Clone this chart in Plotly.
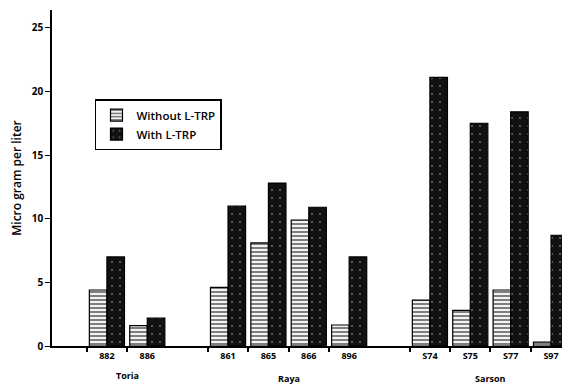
import plotly.graph_objects as go

# ---- data ----
groups = ["Toria", "Raya", "Sarson"]
varieties = ["882", "886", "861", "865", "866", "896", "S74", "S75", "S77", "S97"]
variety_group = ["Toria", "Toria", "Raya", "Raya", "Raya", "Raya",
                 "Sarson", "Sarson", "Sarson", "Sarson"]
without_ltrp = [4.4, 1.6, 4.6, 8.1, 9.9, 1.65, 3.6, 2.8, 4.4, 0.3]
with_ltrp = [7.0, 2.2, 11.0, 12.8, 10.9, 7.0, 21.1, 17.5, 18.4, 8.7]
series_names = ["Without L-TRP", "With L-TRP"]
y_ticks = [0, 5, 10, 15, 20, 25]
y_title = "Micro gram per liter"

# slot positions: a blank slot between groups
positions = []
slot = 0
prev = None
for g in variety_group:
    if prev is not None and g != prev:
        slot += 1
    positions.append(slot)
    slot += 1
    prev = g

group_centers = {}
for g in groups:
    ps = [p for p, vg in zip(positions, variety_group) if vg == g]
    group_centers[g] = sum(ps) / len(ps)

FONT = "Open Sans"

fig = go.Figure()
fig.add_trace(go.Bar(
    x=positions, y=without_ltrp, name=series_names[0],
    marker=dict(color="white", line=dict(color="black", width=1.2),
                pattern=dict(shape="-", fgcolor="black", bgcolor="white",
                             size=4, solidity=0.55)),
))
fig.add_trace(go.Bar(
    x=positions, y=with_ltrp, name=series_names[1],
    marker=dict(color="#111111", line=dict(color="black", width=1.2),
                pattern=dict(shape=".", fgcolor="#bbbbbb", bgcolor="#111111",
                             size=8, solidity=0.06)),
))

minor_ticks = [p - 0.5 for p in positions] + [positions[-1] + 0.5]

fig.update_layout(
    width=562, height=381,
    margin=dict(l=44, r=0, t=2, b=43),
    paper_bgcolor="white", plot_bgcolor="white",
    barmode="group", bargap=0.13, bargroupgap=0.0,
    font=dict(family=FONT, color="black", size=10),
    showlegend=True,
    legend=dict(x=0.083, y=0.735, xanchor="left", yanchor="top",
                bordercolor="black", borderwidth=1.5, bgcolor="white",
                font=dict(family=FONT, size=11.5, weight=600),
                tracegroupgap=0, itemwidth=30),
    xaxis=dict(range=[-1.36, 11.47], showgrid=False, zeroline=False,
               showline=True, linecolor="black", linewidth=1.5,
               tickmode="array", tickvals=positions, ticktext=varieties,
               ticks="", tickfont=dict(size=9, weight=700, family=FONT),
               minor=dict(tickmode="array", tickvals=minor_ticks,
                          ticks="outside", ticklen=4, tickcolor="black",
                          tickwidth=1.5)),
    yaxis=dict(range=[0, 26.4], showgrid=False, zeroline=False,
               showline=True, linecolor="black", linewidth=1.5,
               tickmode="array", tickvals=y_ticks,
               ticks="outside", ticklen=5, tickwidth=1.2, tickcolor="black",
               tickfont=dict(size=10, weight=700, family=FONT),
               title=dict(text=y_title, standoff=8,
                          font=dict(size=12, weight=600, family=FONT))),
)

group_y = {"Toria": -0.088, "Raya": -0.097, "Sarson": -0.097}
for g in groups:
    fig.add_annotation(x=group_centers[g], y=group_y[g], xref="x", yref="paper",
                       text=g, showarrow=False, yanchor="middle",
                       font=dict(size=9, weight=700, family=FONT))

fig.write_html("out.html")
